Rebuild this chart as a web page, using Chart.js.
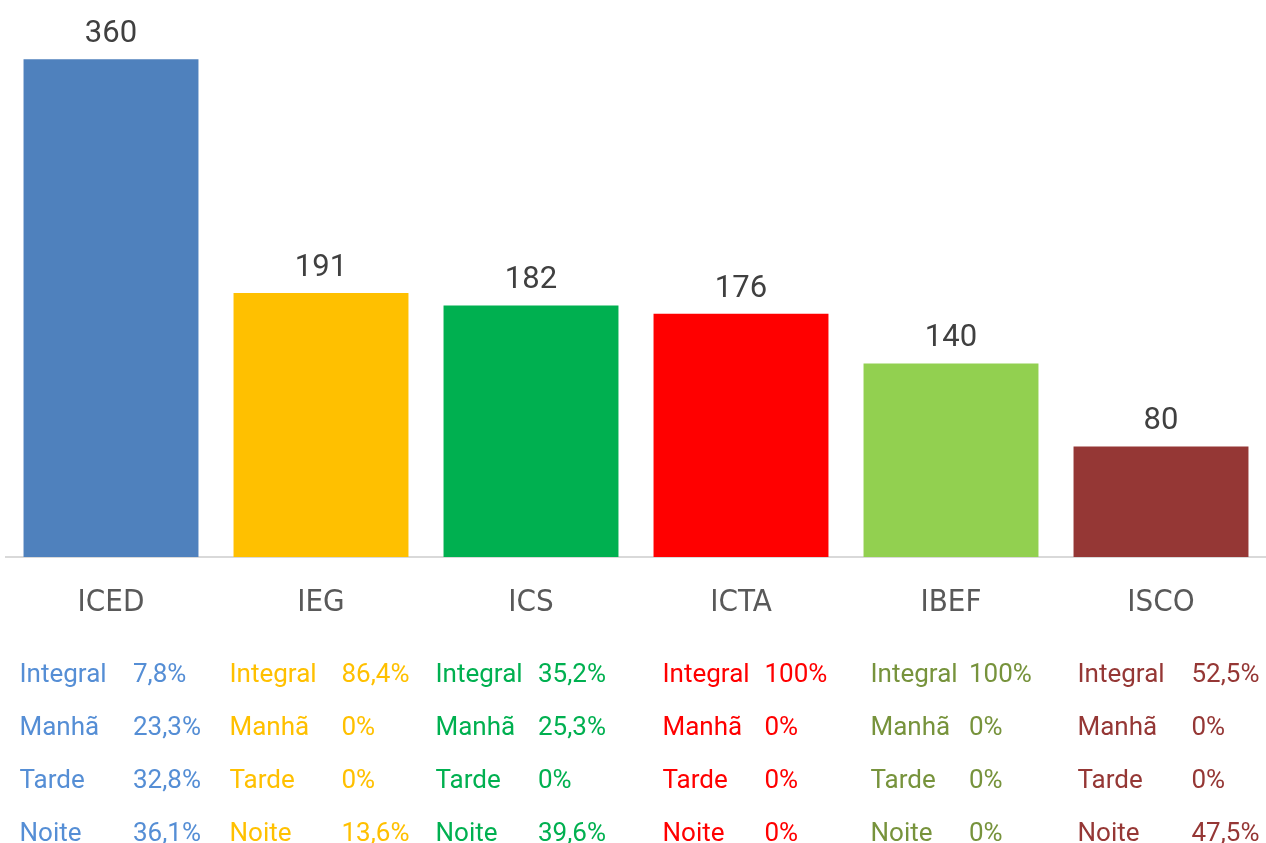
<!DOCTYPE html>
<html><head><meta charset="utf-8">
<script src="https://cdn.jsdelivr.net/npm/chart.js@4"></script>
<style>html,body{margin:0;padding:0;background:#fff;}#wrap{width:1266px;height:843px;position:relative;}</style>
</head><body><div id="wrap"><canvas id="c" width="1266" height="843"></canvas></div>
<script>
// ---- data ----
const categories = ['ICED', 'IEG', 'ICS', 'ICTA', 'IBEF', 'ISCO'];
const totals = [360, 191, 182, 176, 140, 80];
const shiftLabels = ['Integral', 'Manhã', 'Tarde', 'Noite'];
const integralPct = [7.8, 86.4, 35.2, 100, 100, 52.5];
const manhaPct = [23.3, 0, 25.3, 0, 0, 0];
const tardePct = [32.8, 0, 0, 0, 0, 0];
const noitePct = [36.1, 13.6, 39.6, 0, 0, 47.5];

// ---- styles / layout ----
const barColors = ['#4F81BD', '#FFC000', '#00B050', '#FF0000', '#92D050', '#953735'];
const tableColors = ['#558ED5', '#FFC000', '#00B050', '#FF0000', '#77933C', '#953735'];
const labelOff = [13.5, 13.5, 9.5, 26.5, 24.5, 21.5];
const valueOff = [127, 125.5, 112, 128.5, 123, 135.5];
const rowBaselines = [125, 178, 231, 284]; // below chart area bottom

function fmtPct(v) {
  const s = Number.isInteger(v) ? String(v) : v.toFixed(1).replace('.', ',');
  return s + '%';
}
const rows = [integralPct, manhaPct, tardePct, noitePct];

const extras = {
  id: 'extras',
  afterDatasetsDraw(chart) {
    const ctx = chart.ctx;
    const meta = chart.getDatasetMeta(0);
    ctx.save();
    ctx.font = '31px Roboto';
    ctx.fillStyle = '#404040';
    ctx.textAlign = 'center';
    ctx.textBaseline = 'alphabetic';
    meta.data.forEach((bar, i) => {
      ctx.fillText(String(totals[i]), bar.x, bar.y - 17);
    });
    const xs = chart.scales.x;
    const bottom = chart.chartArea.bottom;
    const half = (xs.getPixelForValue(1) - xs.getPixelForValue(0)) / 2;
    ctx.font = '26px Roboto';
    ctx.textAlign = 'left';
    categories.forEach((c, i) => {
      const left = xs.getPixelForValue(i) - half;
      ctx.fillStyle = tableColors[i];
      rows.forEach((r, k) => {
        const y = bottom + rowBaselines[k];
        ctx.fillText(shiftLabels[k], left + labelOff[i], y);
        ctx.fillText(fmtPct(r[i]), left + valueOff[i], y);
      });
    });
    ctx.restore();
  }
};

new Chart(document.getElementById('c'), {
  type: 'bar',
  data: {
    labels: categories,
    datasets: [{ data: totals, backgroundColor: barColors, borderWidth: 0, categoryPercentage: 1, barPercentage: 0.833 }]
  },
  options: {
    responsive: false,
    animation: false,
    events: [],
    layout: { padding: { top: 4, left: 6, right: 0, bottom: 0 } },
    plugins: { legend: { display: false }, tooltip: { enabled: false } },
    scales: {
      y: { display: false, min: 0, max: 400 },
      x: {
        grid: { display: false, drawTicks: false },
        border: { display: true, color: '#D9D9D9', width: 2 },
        ticks: { color: '#595959', padding: 27, font: { family: '"Liberation Sans Narrow", "DejaVu Sans Condensed", Roboto', size: 31 } },
        afterFit: (s) => { s.height = 286; }
      }
    }
  },
  plugins: [extras]
});
</script></body></html>
